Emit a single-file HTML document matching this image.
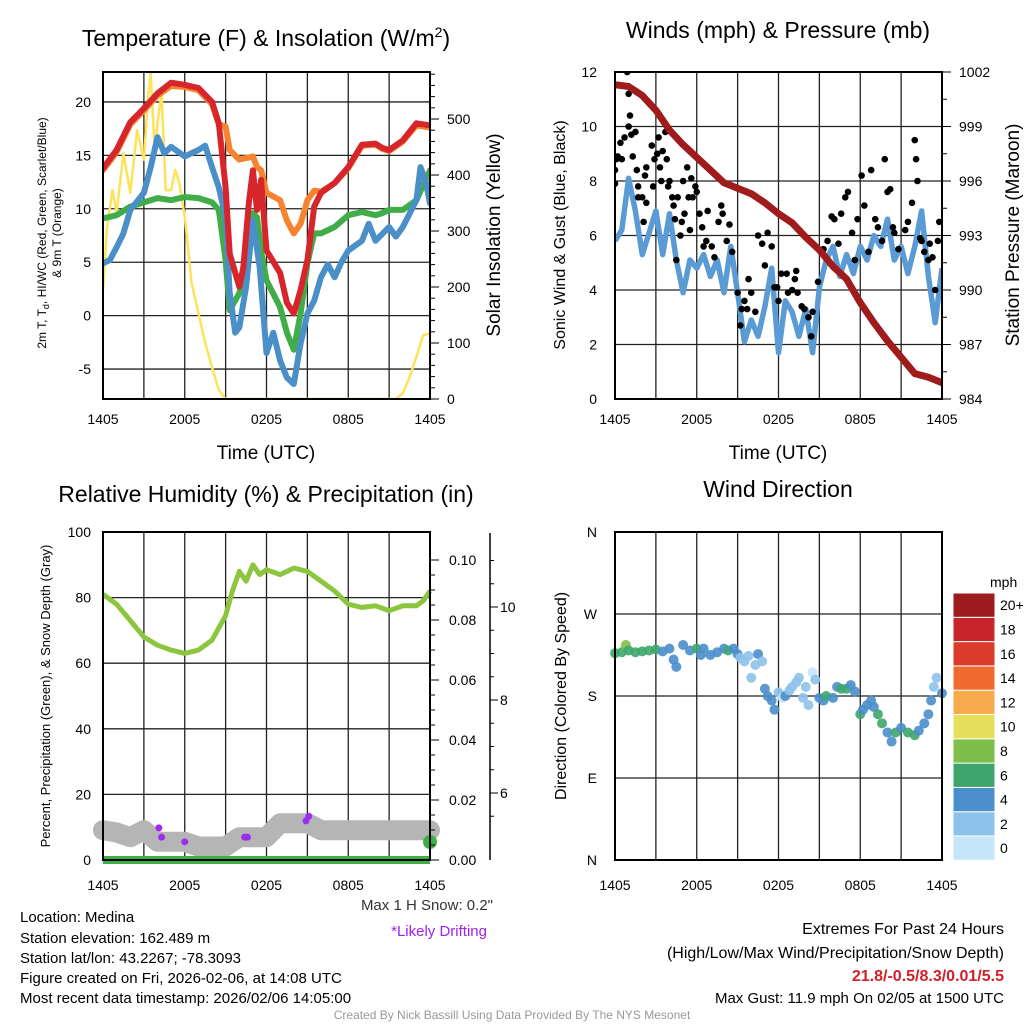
<!DOCTYPE html>
<html><head><meta charset="utf-8"><style>
body{margin:0;background:#fff}
svg{display:block;font-family:"Liberation Sans",sans-serif}
</style></head><body>
<svg id="c" width="1024" height="1024" viewBox="0 0 1024 1024">
<g font-size="23" text-anchor="middle">
<text x="266" y="46">Temperature (F) &amp; Insolation (W/m<tspan font-size="14" dy="-9">2</tspan><tspan dy="9">)</tspan></text>
<text x="778" y="38">Winds (mph) &amp; Pressure (mb)</text>
<text x="266" y="502">Relative Humidity (%) &amp; Precipitation (in)</text>
<text x="778" y="497">Wind Direction</text>
</g>
<g font-size="19" text-anchor="middle">
<text x="266" y="459">Time (UTC)</text>
<text x="778" y="459">Time (UTC)</text>
</g>
<text transform="translate(46,233) rotate(-90)" text-anchor="middle" font-size="12">2m T, T<tspan font-size="9" dy="3">d</tspan><tspan dy="-3">, HI/WC (Red, Green, Scarlet/Blue)</tspan></text>
<text transform="translate(61,233) rotate(-90)" text-anchor="middle" font-size="12">&amp; 9m T (Orange)</text>
<text transform="translate(500,235) rotate(-90)" text-anchor="middle" font-size="19">Solar Insolation (Yellow)</text>
<text transform="translate(565,235) rotate(-90)" text-anchor="middle" font-size="16">Sonic Wind &amp; Gust (Blue, Black)</text>
<text transform="translate(1019,235) rotate(-90)" text-anchor="middle" font-size="19">Station Pressure (Maroon)</text>
<text transform="translate(50,696) rotate(-90)" text-anchor="middle" font-size="13">Percent, Precipitation (Green), &amp; Snow Depth (Gray)</text>
<text transform="translate(566,696) rotate(-90)" text-anchor="middle" font-size="16">Direction (Colored By Speed)</text>
<g font-size="15">
<text x="20" y="922">Location: Medina</text>
<text x="20" y="943">Station elevation: 162.489 m</text>
<text x="20" y="963">Station lat/lon: 43.2267; -78.3093</text>
<text x="20" y="983">Figure created on Fri, 2026-02-06, at 14:08 UTC</text>
<text x="20" y="1003">Most recent data timestamp: 2026/02/06 14:05:00</text>
</g>
<text x="493" y="910" font-size="15" text-anchor="end" fill="#333">Max 1 H Snow: 0.2"</text>
<text x="487" y="936" font-size="15" text-anchor="end" fill="#a020f0">*Likely Drifting</text>
<g text-anchor="end">
<text x="1004" y="934" font-size="16">Extremes For Past 24 Hours</text>
<text x="1004" y="958" font-size="16">(High/Low/Max Wind/Precipitation/Snow Depth)</text>
<text x="1004" y="981" font-size="16" font-weight="bold" fill="#d0202a">21.8/-0.5/8.3/0.01/5.5</text>
<text x="1004" y="1003" font-size="15">Max Gust: 11.9 mph On 02/05 at 1500 UTC</text>
</g>
<text x="512" y="1019" font-size="12" text-anchor="middle" fill="#999">Created By Nick Bassill Using Data Provided By The NYS Mesonet</text>
</svg>
<script>
// ---- Temperature panel data (hours since 1405 UTC) ----
const tempT=[0,1,2,3,4,5,6,7,8,8.5,9,9.3,10,10.3,10.7,11,11.3,11.6,12,13,13.5,14,14.5,15,15.5,16,17,18,19,20,20.5,21,22,23,24];
const redT=[13.8,15.5,18.1,19.4,20.8,21.8,21.6,21.3,20,18,12,5.8,2.7,4.5,10.5,13.6,9.9,12.7,6.1,4.0,1.2,0.2,2.4,5.2,10.2,11.5,12.4,13.9,16,16.1,15.7,15.5,16.4,18,17.8];
const orangeT=[13.6,15.3,17.9,19.2,20.6,21.5,21.4,21.1,19.8,17.9,17.7,15.5,14.6,14.7,14.8,14.9,13.9,13.6,11.5,10.8,8.9,7.7,8.6,10.8,11.7,11.6,12.4,13.8,15.9,16,15.6,15.4,16.3,17.8,17.6];
const greenT=[9.1,9.4,10.2,10.6,11,10.8,11.1,11,10.6,9.9,5.2,0.5,2.1,3.6,6.5,9.6,9.2,6,3.3,0.8,-1.6,-3.2,0.2,4.9,7.7,7.7,8.3,9.4,9.7,9.4,9.6,9.9,9.9,10.8,13.6];
const hiT=[0,0.5,1,1.5,2,3,3.5,4,4.5,5,6,7,7.5,8,8.5,9,9.3,9.7,10,10.5,11,11.5,12,12.5,13,13.5,14,14.5,15,15.5,16,16.5,17,17.5,18,19,19.5,20,21,21.5,22,23,23.3,23.7,24];
const hiV=[4.9,5.2,6.4,7.7,9.9,11.5,13.9,16.7,15.2,15.8,14.9,15.5,15.9,13.9,12,9.2,2.1,-1.6,-1.1,2.7,8.9,4.5,-3.5,-1.6,-4.2,-5.8,-6.4,-2.6,0.2,1.4,3.6,4.8,3.6,5.0,6.1,7,8.6,7.0,8.3,7.4,8.3,10.8,13.9,12.5,10.5];
const solT=[0,0.3,0.7,1,1.5,2,2.5,3,3.3,3.5,3.8,4,4.3,4.6,5,5.3,5.6,6,6.5,7,7.5,8,8.5,9,21.5,22,22.5,23,23.5,24];
const solV=[195,307,373,332,439,368,480,427,539,582,439,493,546,373,373,409,386,325,207,154,100,57,16,0,0,10,39,75,114,117];
const tempTicks=[-5,0,5,10,15,20];
const solTicks=[0,100,200,300,400,500];
const timeLabels=["1405","2005","0205","0805","1405"];
// ---- Wind panel data ----
const windT=[0,0.5,1,1.5,2,2.5,3,3.5,4,4.5,5,5.5,6,6.5,7,7.5,8,8.5,9,9.5,10,10.5,11,11.5,12,12.5,13,13.5,14,14.5,15,15.5,16,16.5,17,17.5,18,18.5,19,19.5,20,20.5,21,21.5,22,22.5,23,23.5,24];
const windV=[5.8,6.2,8.1,6.9,5.3,6.1,6.9,5.3,6.8,5.1,3.9,5.1,4.8,5.3,4.5,5.1,3.9,5.6,3.9,2.1,2.9,2.3,3.4,4.8,1.7,3.6,3.2,2.3,3.3,1.7,4.1,5.1,5.6,4.5,5.3,4.6,5.6,5.1,6.0,5.6,6.6,5.1,5.6,4.6,5.6,6.9,4.5,2.8,4.8];
const gustT=[0,0,0.1,0.2,0.5,0.4,0.7,0.9,1,1,1.1,1.2,1.3,1.5,1.6,1.7,1.7,2,2.1,2.2,2.3,2.3,2.7,2.8,2.9,3.1,3.2,3.3,3.4,3.5,3.7,3.8,3.9,4,4.2,4.3,4.4,4.5,4.6,4.8,4.9,5,5.1,5.3,5.4,5.5,5.6,5.7,5.9,6,6.2,6.4,6.5,6.7,6.8,7.1,7.3,7.6,7.8,7.9,8.2,8.4,8.6,9,9.2,9.3,9.5,9.7,9.8,10,10.3,10.5,10.8,11,11.2,11.5,11.7,11.9,12,12.2,12.6,12.7,13,13.2,13.3,13.4,13.7,13.9,14.2,14.4,14.5,14.9,15.3,15.6,15.9,16.1,16.4,16.6,16.9,17.1,17.4,17.6,17.8,18.1,18.3,18.6,18.8,19.1,19.3,19.6,19.8,20,20.2,20.4,20.5,20.8,21.3,21.5,21.8,22,22.1,22.2,22.4,22.5,22.7,23,23.1,23.3,23.5,23.7,23.8];
const gustV=[8.4,7.9,8.8,8.9,8.8,9.4,9.6,12.0,11.2,10.0,10.4,9.7,8.9,9.8,8.4,7.8,7.4,7.4,6.5,8.2,7.2,8.5,9.3,7.8,8.8,9.0,9.6,8.5,8.0,9.1,9.8,8.8,7.8,8.0,7.4,7.1,6.6,5.1,7.4,6.0,6.5,8.0,6.8,8.5,7.4,6.2,8.1,7.4,7.8,7.6,6.8,6.3,5.6,5.8,6.9,5.6,5.2,6.5,7.1,6.8,5.8,6.4,5.4,3.9,2.7,3.3,3.6,3.3,4.4,3.9,3.2,6.0,5.7,4.9,6.1,5.6,4.1,4.1,3.6,4.6,4.6,3.9,4.0,4.4,4.7,3.9,3.4,3.3,3.0,2.3,3.2,4.3,5.5,5.8,6.7,6.6,5.7,6.8,7.4,7.6,6.1,5.1,6.6,8.2,7.1,5.4,8.4,6.6,6.3,5.8,8.8,7.6,7.7,6.3,6.1,5.5,6.2,6.5,7.2,9.5,8.8,8.0,5.9,5.8,5.4,5.1,5.7,5.2,4.0,5.8,6.5];
const presT=[0,1,2,3,4,5,6,7,8,9,10,11,12,13,14,15,16,17,18,19,20,21,22,23,24];
const presV=[1001.3,1001.2,1000.7,999.9,998.8,998,997.3,996.6,995.9,995.6,995.3,994.8,994.2,993.7,992.9,992.2,991.3,990.6,989.3,988.2,987.2,986.3,985.4,985.2,984.9];
const windTicks=[0,2,4,6,8,10,12];
const presTicks=[984,987,990,993,996,999,1002];
// ---- Humidity panel data ----
const rhT=[0,1,2,3,4,5,6,7,8,9,9.5,10,10.5,11,11.5,12,13,14,15,16,17,18,19,20,21,22,23,23.5,24];
const rhV=[81,78,73,68,65.5,64,63,64,67,74.5,82,88,85,90,87,88.5,87,89,88,85,82,78,77,77.5,76,77.5,77.5,79,82];
const snowT=[0,1,2,3,4,5,6,7,8,9,10,11,12,13,14,15,16,17,18,19,20,21,22,23,24];
const snowV=[5.2,5.15,5.05,5.2,4.95,4.95,4.95,4.85,4.85,4.85,5.05,5.05,5.05,5.35,5.35,5.35,5.2,5.2,5.2,5.2,5.2,5.2,5.2,5.2,5.2];
const driftT=[4.1,4.3,6.0,10.4,10.6,14.9,15.1];
const driftV=[5.25,5.05,4.95,5.05,5.05,5.4,5.5];
const precipT=[0,24];
const precipV=[0,0];
const rhTicks=[0,20,40,60,80,100];
const precipTicks=[0,0.02,0.04,0.06,0.08,0.10];
const snowTicks=[6,8,10];
// ---- Wind direction data ----
const dirT=[0,0.5,0.8,1,1.5,2,2.5,3,3.5,4,4.3,4.5,5,5.5,6,6.3,6.5,7,7.5,8,8.3,8.7,9,9.2,9.5,9.8,10,10.3,10.5,10.8,11,11.2,11.5,11.7,12,12.3,12.5,12.8,13,13.3,13.5,13.8,14,14.2,14.5,14.7,15,15.3,15.5,16,16.3,16.6,17,17.3,17.6,18,18.2,18.5,18.8,19,19.3,19.6,20,20.3,20.6,21,21.5,22,22.3,22.7,23,23.2,23.4,23.6,24];
const dirV=[227,228,236,230,228,229,230,231,229,232,220,212,236,230,232,225,232,225,228,232,230,232,226,222,218,224,200,214,226,218,188,180,175,165,184,178,180,186,190,195,200,178,190,170,206,198,178,175,180,178,190,188,188,192,185,160,165,170,175,168,160,150,140,130,140,145,140,137,142,150,160,175,190,200,183];
const dirSpd=[6,6,8,6,5,6,6,6,4,4,4,4,4,4,6,4,4,4,4,4,6,4,4,2,2,2,2,2,4,2,4,4,4,4,2,0,4,2,2,2,2,2,2,2,0,2,4,4,6,4,4,6,6,4,4,6,4,4,4,4,6,6,4,4,6,4,6,6,4,4,4,4,2,2,4];
const dirLabels=["N","E","S","W","N"];
const cbLabels=["0","2","4","6","8","10","12","14","16","18","20+"];
const cbColors=["#c4e6f8","#8dc3ea","#4a8ecb","#3ea66c","#7dbf48","#e6df5c","#f7ab4c","#ef6b2e","#dc3b2b","#c8242b","#9b1b1e"];

const NS="http://www.w3.org/2000/svg";
const svg=document.getElementById('c');
function mk(tag,at,parent){const e=document.createElementNS(NS,tag);for(const k in at)e.setAttribute(k,at[k]);(parent||svg).appendChild(e);return e;}
function scale(d0,d1,r0,r1){return v=>r0+(v-d0)/(d1-d0)*(r1-r0);}
function pathD(xs,ys,fx,fy){return xs.map((t,i)=>(i?'L':'M')+fx(t).toFixed(1)+','+fy(ys[i]).toFixed(1)).join('');}
function colorFor(s){return cbColors[Math.min(10,Math.max(0,Math.round(s/2)))];}

function frame(L,R,T,B,vlines,hys,name){
  const g=mk('g',{});
  
  
  vlines.forEach(x=>mk('line',{x1:x,x2:x,y1:T,y2:B,stroke:'#222','stroke-width':1.3},g));
  hys.forEach(y=>mk('line',{x1:L,x2:R,y1:y,y2:y,stroke:'#222','stroke-width':1.3},g));
  return g;
}
function border(L,R,T,B,name){
  const r=mk('rect',{x:L,y:T,width:R-L,height:B-T,fill:'none',stroke:'#000','stroke-width':2});
  
  
}
function xLabels(L,R,y,name){
  const fx=scale(0,24,L,R);
  timeLabels.forEach((lb,i)=>{const t=mk('text',{x:fx(i*6),y:y,'font-size':14,'text-anchor':'middle'});t.textContent=lb;
    
    });
}
function clip(id,L,R,T,B){const d=mk('defs',{});const c=mk('clipPath',{id:id},d);mk('rect',{x:L,y:T,width:R-L,height:B-T},c);}

// ===== Panel 1 =====
(function(){
  const L=103,R=430,T=72,B=399;
  const fx=scale(0,24,L,R), fy=scale(-7.8,22.8,B,T), fs=scale(0,584,B,T);
  const v=[];for(let h=3;h<24;h+=3)v.push(fx(h));
  frame(L,R,T,B,v,tempTicks.map(fy),'temp');
  clip('c1',L,R,T,B);
  const g=mk('g',{'clip-path':'url(#c1)'});
  const lines=[[solT,solV,fs,'#fde25a',2.5,'solar-line'],[orangeT,null,fy,'#f58330',6,'temp-9m-line'],[greenT,null,fy,'#40ad48',6,'dewpoint-line'],[hiT,hiV,fy,'#4a8fc8',6,'heat-index-line'],[redT,null,fy,'#d6262b',6,'temp-2m-line']];
  lines.forEach(([xs,ys,f,c,w,n])=>{
    const p=mk('path',{d:pathD(ys?xs:tempT,ys||xs,fx,f),fill:'none',stroke:c,'stroke-width':w,'stroke-linejoin':'round','stroke-linecap':'round'},g);
    
    
  });
  border(L,R,T,B,'temp');
  tempTicks.forEach(v=>{const t=mk('text',{x:L-12,y:fy(v)+5,'font-size':14,'text-anchor':'end'});t.textContent=v;
    
    });
  for(let s=0;s<=580;s+=20)mk('line',{x1:R,x2:R+(s%100?5:9),y1:fs(s),y2:fs(s),stroke:'#000'});
  solTicks.forEach(v=>{const t=mk('text',{x:R+17,y:fs(v)+5,'font-size':14});t.textContent=v;
    
    });
  xLabels(L,R,424,'temp');
})();

// ===== Panel 2 =====
(function(){
  const L=615,R=942,T=72,B=399;
  const fx=scale(0,24,L,R), fy=scale(0,12,B,T), fp=scale(984,1002,B,T);
  const v=[];for(let h=3;h<24;h+=3)v.push(fx(h));
  frame(L,R,T,B,v,windTicks.map(fy),'wind');
  clip('c2',L,R,T+1,B);
  const g=mk('g',{'clip-path':'url(#c2)'});
  const w=mk('path',{d:pathD(windT,windV,fx,fy),fill:'none',stroke:'#5a9bd5','stroke-width':5.5,'stroke-linejoin':'round'},g);
  
  
  gustT.forEach((t,i)=>{const c=mk('circle',{cx:fx(t),cy:fy(gustV[i]),r:3.3,fill:'#000'},g);
    
    });
  const p=mk('path',{d:pathD(presT,presV,fx,fp),fill:'none',stroke:'#a01b1b','stroke-width':7,'stroke-linejoin':'round','stroke-linecap':'round'},g);
  
  
  border(L,R,T,B,'wind');
  windTicks.forEach(v=>{const t=mk('text',{x:L-18,y:fy(v)+5,'font-size':14,'text-anchor':'end'});t.textContent=v;
    
    });
  for(let s=984;s<=1002;s+=1.5)mk('line',{x1:R,x2:R+(((s-984)%3)?5:9),y1:fp(s),y2:fp(s),stroke:'#000'});
  presTicks.forEach(v=>{const t=mk('text',{x:R+17,y:fp(v)+5,'font-size':14});t.textContent=v;
    
    });
  xLabels(L,R,424,'wind');
})();

// ===== Panel 3 =====
(function(){
  const L=103,R=430,T=532,B=860;
  const fx=scale(0,24,L,R), fy=scale(0,100,B,T), fpr=scale(0,0.11,B,T-2), fsn=scale(6,10,793,607);
  const v=[];for(let h=3;h<24;h+=3)v.push(fx(h));
  frame(L,R,T,B,v,[20,40,60,80].map(fy),'humidity');
  const sn=mk('path',{d:pathD(snowT,snowV,fx,fsn),fill:'none',stroke:'#b5b5b5','stroke-width':20,'stroke-linejoin':'round','stroke-linecap':'round'});
  
  
  driftT.forEach((t,i)=>{const c=mk('circle',{cx:fx(t),cy:fsn(driftV[i]),r:3.5,fill:'#9b2cf0'});
    
    });
  const pr=mk('path',{d:pathD(precipT,precipV,fx,fpr),fill:'none',stroke:'#3fae49','stroke-width':8});
  
  
  const pd=mk('circle',{cx:R,cy:fpr(0.006),r:7,fill:'#3fae49'});
  
  
  const rh=mk('path',{d:pathD(rhT,rhV,fx,fy),fill:'none',stroke:'#8cc63e','stroke-width':5,'stroke-linejoin':'round'});
  
  
  border(L,R,T,B,'humidity');
  rhTicks.forEach(v=>{const t=mk('text',{x:L-12,y:fy(v)+5,'font-size':14,'text-anchor':'end'});t.textContent=v;
    
    });
  for(let s=0;s<=0.105;s+=0.005)mk('line',{x1:R,x2:R+(Math.round(s*1000)%20?5:9),y1:fpr(s),y2:fpr(s),stroke:'#000'});
  precipTicks.forEach(v=>{const t=mk('text',{x:R+19,y:fpr(v)+5,'font-size':14});t.textContent=v.toFixed(2);
    
    });
  mk('line',{x1:490,x2:490,y1:533,y2:860,stroke:'#000','stroke-width':1.5});
  for(let s=5.5;s<=11;s+=0.5){const y=fsn(s);if(y>=535&&y<=858)mk('line',{x1:490,x2:s%2?494:498,y1:y,y2:y,stroke:'#000'});}
  snowTicks.forEach(v=>{const t=mk('text',{x:500,y:fsn(v)+5,'font-size':14});t.textContent=v;
    
    });
  xLabels(L,R,890,'humidity');
})();

// ===== Panel 4 =====
(function(){
  const L=615,R=942,T=532,B=860;
  const fx=scale(0,24,L,R), fy=scale(0,360,B,T);
  const v=[];for(let h=3;h<24;h+=3)v.push(fx(h));
  frame(L,R,T,B,v,[90,180,270].map(fy),'direction');
  dirT.forEach((t,i)=>{const c=mk('circle',{cx:fx(t),cy:fy(dirV[i]),r:5,fill:colorFor(dirSpd[i]),opacity:0.9});
    
    });
  border(L,R,T,B,'direction');
  dirLabels.forEach((lb,i)=>{const t=mk('text',{x:L-18,y:fy(i*90)+5,'font-size':14,'text-anchor':'end'});t.textContent=lb;
    
    });
  xLabels(L,R,890,'direction');
  const cb=mk('g',{});
  
  
  const h=24.3,top=593;
  cbColors.forEach((c,i)=>{const y=top+(10-i)*h;
    mk('rect',{x:953,y:y,width:42,height:h,fill:c,stroke:'#fff','stroke-width':1},cb);
    const t=mk('text',{x:1000,y:y+h/2+5,'font-size':14},cb);t.textContent=cbLabels[i];
    
    });
  const u=mk('text',{x:990,y:587,'font-size':14},cb);u.textContent='mph';
})();
</script>
</body></html>
